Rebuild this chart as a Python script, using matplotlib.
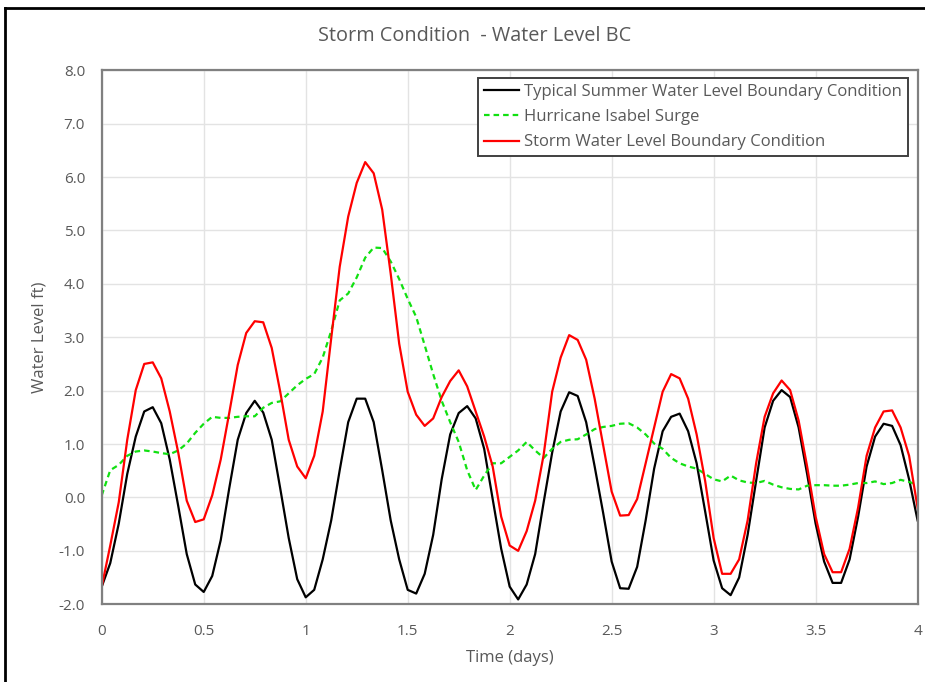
import numpy as np
import matplotlib
matplotlib.use('Agg')
import matplotlib.pyplot as plt
from matplotlib.lines import Line2D

plt.rcParams['font.family'] = ['Open Sans', 'DejaVu Sans']

# hourly values over 4 days
hours = np.arange(97)
days = hours / 24.0

typical = [-1.67, -1.23, -0.49, 0.44, 1.14, 1.61, 1.69, 1.39, 0.71, -0.16,
           -1.06, -1.63, -1.77, -1.47, -0.80, 0.17, 1.08, 1.58, 1.81, 1.59,
           1.08, 0.17, -0.76, -1.53, -1.87, -1.73, -1.16, -0.43, 0.51, 1.41,
           1.85, 1.85, 1.41, 0.51, -0.43, -1.16, -1.73, -1.80, -1.43, -0.70,
           0.34, 1.18, 1.58, 1.71, 1.48, 0.91, -0.03, -0.96, -1.67, -1.91,
           -1.63, -1.06, -0.09, 0.84, 1.61, 1.97, 1.90, 1.41, 0.58, -0.29,
           -1.20, -1.70, -1.71, -1.30, -0.43, 0.54, 1.24, 1.51, 1.57, 1.24,
           0.64, -0.26, -1.18, -1.70, -1.83, -1.50, -0.70, 0.31, 1.31, 1.81,
           2.01, 1.88, 1.31, 0.44, -0.49, -1.20, -1.60, -1.60, -1.16, -0.36,
           0.58, 1.14, 1.38, 1.34, 0.98, 0.34, -0.43]

isabel = [0.04, 0.51, 0.61, 0.78, 0.86, 0.88, 0.86, 0.83, 0.81, 0.88,
          1.01, 1.21, 1.38, 1.51, 1.49, 1.49, 1.51, 1.52, 1.52, 1.68,
          1.77, 1.80, 1.95, 2.10, 2.22, 2.31, 2.62, 3.12, 3.69, 3.82,
          4.12, 4.49, 4.68, 4.67, 4.42, 4.09, 3.72, 3.38, 2.85, 2.31,
          1.81, 1.41, 1.04, 0.51, 0.14, 0.41, 0.64, 0.64, 0.76, 0.88,
          1.04, 0.88, 0.74, 0.91, 1.04, 1.08, 1.09, 1.18, 1.28, 1.32,
          1.34, 1.38, 1.39, 1.31, 1.18, 1.01, 0.91, 0.74, 0.64, 0.58,
          0.54, 0.44, 0.34, 0.30, 0.41, 0.32, 0.28, 0.27, 0.31, 0.24,
          0.19, 0.16, 0.15, 0.22, 0.23, 0.23, 0.22, 0.22, 0.24, 0.27,
          0.27, 0.30, 0.25, 0.27, 0.33, 0.29, 0.24]

storm = [-1.67, -0.90, -0.09, 1.08, 2.01, 2.50, 2.53, 2.23, 1.61, 0.84,
         -0.06, -0.46, -0.41, 0.04, 0.71, 1.58, 2.48, 3.08, 3.30, 3.28,
         2.80, 1.98, 1.08, 0.58, 0.36, 0.78, 1.61, 2.98, 4.32, 5.26,
         5.89, 6.28, 6.07, 5.39, 4.19, 2.88, 1.98, 1.55, 1.34, 1.48,
         1.88, 2.18, 2.38, 2.08, 1.61, 1.14, 0.58, -0.36, -0.90, -1.00,
         -0.63, -0.06, 0.80, 1.98, 2.62, 3.04, 2.95, 2.58, 1.85, 0.98,
         0.11, -0.34, -0.33, -0.03, 0.64, 1.31, 1.98, 2.31, 2.23, 1.85,
         1.18, 0.31, -0.76, -1.43, -1.43, -1.16, -0.43, 0.64, 1.51, 1.95,
         2.19, 2.01, 1.44, 0.58, -0.36, -1.06, -1.40, -1.40, -0.96, -0.19,
         0.78, 1.31, 1.61, 1.63, 1.31, 0.78, -0.19]

xticks = [0, 0.5, 1, 1.5, 2, 2.5, 3, 3.5, 4]
xticklabels = ['0', '0.5', '1', '1.5', '2', '2.5', '3', '3.5', '4']
yticks = np.arange(-2, 8.1, 1.0)

txt = '#595959'

fig = plt.figure(figsize=(9.25, 6.82), dpi=100)
ax = fig.add_axes([0.110, 0.114, 0.882, 0.783])

ax.plot(days, typical, color='black', lw=1.6,
        label='Typical Summer Water Level Boundary Condition')
ax.plot(days, isabel, color='#11e011', lw=1.6, linestyle=(0, (2.5, 1.8)),
        label='Hurricane Isabel Surge')
ax.plot(days, storm, color='#ff0000', lw=1.6,
        label='Storm Water Level Boundary Condition')

ax.set_xlim(0, 4)
ax.set_ylim(-2, 8)
ax.set_xticks(xticks)
ax.set_xticklabels(xticklabels)
ax.set_yticks(yticks)
ax.set_yticklabels([f'{v:.1f}' for v in yticks])
ax.tick_params(length=0, labelsize=11, labelcolor=txt)
ax.tick_params(axis='y', pad=12)
ax.tick_params(axis='x', pad=14)
ax.grid(True, color='#e3e3e3', lw=1.0)
ax.set_axisbelow(True)
for s in ax.spines.values():
    s.set_color('#808080')
    s.set_linewidth(1.6)

fig.text(475 / 925, 1 - 36 / 682, 'Storm Condition  - Water Level BC',
         fontsize=14.3, color=txt, ha='center', va='center')
ax.set_xlabel('Time (days)', fontsize=12, color=txt, labelpad=8)
ax.set_ylabel('Water Level ft)', fontsize=12, color=txt, labelpad=8)

leg = ax.legend(loc='upper right', bbox_to_anchor=(0.988, 0.985), borderaxespad=0,
                fontsize=12, fancybox=False, framealpha=1, edgecolor='#404040',
                handlelength=2.1, handletextpad=0.3, labelspacing=0.55, borderpad=0.35)
leg.get_frame().set_linewidth(1.4)
for t in leg.get_texts():
    t.set_color(txt)

# screenshot frame on the left and top
fig.add_artist(Line2D([5 / 925, 5 / 925], [0, 1 - 8 / 682], color='black', lw=2,
                      transform=fig.transFigure))
fig.add_artist(Line2D([5 / 925, 1], [1 - 8 / 682, 1 - 8 / 682], color='black', lw=2,
                      transform=fig.transFigure))

fig.savefig('out.png', dpi=100)
